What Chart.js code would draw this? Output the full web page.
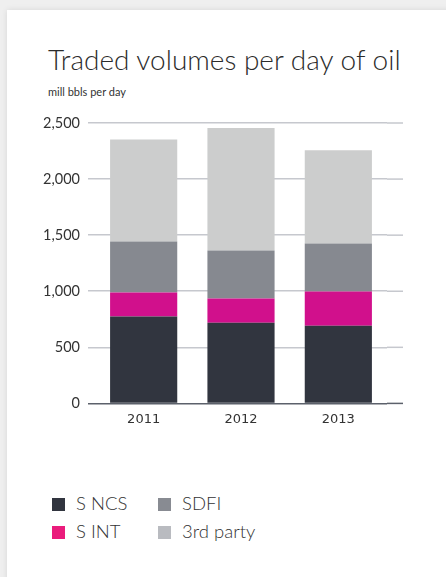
<!DOCTYPE html>
<html>
<head>
<meta charset="utf-8">
<script src="https://cdn.jsdelivr.net/npm/chart.js@4.4.1/dist/chart.umd.min.js"></script>
<style>
	html, body { margin: 0; padding: 0; }
	body { width: 446px; height: 577px; background: #efefef; overflow: hidden; position: relative; font-family: Lato, sans-serif; }
	#card { position: absolute; left: 7px; top: 10px; width: 460px; height: 580px; background: #fff; box-shadow: 0 0 6px rgba(0,0,0,0.10); }
	#wrap { position: absolute; left: 0; top: 0; width: 439px; height: 440px; }
	#title { position: absolute; left: 41px; top: 32px; font-size: 28px; font-weight: 300; line-height: 34px; color: #2b2b2b; white-space: nowrap; }
	#subtitle { position: absolute; left: 41px; top: 75px; font-size: 11px; line-height: 13.2px; color: #333; }
	#legend { position: absolute; left: 45px; top: 479px; width: 280px; }
	.item { display: inline-block; height: 28px; font-size: 18.5px; font-weight: 300; color: #333; line-height: 28px; }
	.c0 { width: 106px; }
	.box { display: inline-block; width: 13px; height: 13px; margin-right: 11px; vertical-align: -1px; }
</style>
</head>
<body>
<div id="card">
	<div id="title">Traded volumes per day of oil</div>
	<div id="subtitle">mill bbls per day</div>
	<div id="wrap"><canvas id="mycanvas"></canvas></div>
	<div id="legend"></div>
</div>
<script>
var Years = ['2011', '2012', '2013'];
var SNCS = [774, 718, 692];
var SINT = [214, 217, 305];
var SDFI = [456, 428, 428];
var ThirdParty = [910, 1092, 831];

var names = ['S NCS', 'S INT', 'SDFI', '3rd party'];
var colors = ['#31353f', '#d1108c', '#868990', '#cccdcd'];
var legendColors = ['#31353f', '#ea1c7c', '#888b92', '#b9bbc0'];

// gridlines run a bit past the plot on the right in the original
var extendGrid = {
	id: 'extendGrid',
	beforeDatasetsDraw: function(chart) {
		var y = chart.scales.y, ctx = chart.ctx, area = chart.chartArea;
		ctx.save();
		y.ticks.forEach(function(t) {
			var py = y.getPixelForValue(t.value);
			ctx.beginPath();
			ctx.lineWidth = 1.5;
			ctx.strokeStyle = t.value === 0 ? '#5c616b' : '#c6c8ce';
			ctx.moveTo(area.right, py);
			ctx.lineTo(area.right + 16, py);
			ctx.stroke();
		});
		ctx.restore();
	}
};

var chartdata = {
	labels: Years,
	datasets: [
		{ label: names[0], data: SNCS, backgroundColor: colors[0] },
		{ label: names[1], data: SINT, backgroundColor: colors[1] },
		{ label: names[2], data: SDFI, backgroundColor: colors[2] },
		{ label: names[3], data: ThirdParty, backgroundColor: colors[3] }
	]
};

var ctx = document.getElementById('mycanvas');

var barGraph = new Chart(ctx, {
	type: 'bar',
	data: chartdata,
	plugins: [extendGrid],
	options: {
		responsive: true,
		maintainAspectRatio: false,
		animation: false,
		datasets: { bar: { barPercentage: 0.69, categoryPercentage: 1 } },
		layout: { padding: { left: 33, right: 59, top: 113, bottom: 23 } },
		plugins: {
			legend: { display: false },
			tooltip: { enabled: false }
		},
		scales: {
			x: {
				stacked: true,
				grid: { display: false },
				border: { display: false },
				ticks: { color: '#333', font: { family: 'DejaVu Sans', size: 13 }, padding: 0 }
			},
			y: {
				stacked: true,
				min: 0,
				max: 2500,
				border: { display: false },
				afterFit: function(scale) { scale.width = 55; },
				grid: {
					color: function(c) { return c.tick && c.tick.value === 0 ? '#5c616b' : '#c6c8ce'; },
					lineWidth: 1.5,
					tickLength: 7
				},
				ticks: {
					stepSize: 500,
					padding: 8,
					color: '#333',
					font: { family: 'Lato', size: 14.5 },
					callback: function(v) { return v.toLocaleString('en-US'); }
				}
			}
		}
	}
});

// legend in two columns: S NCS / SDFI, S INT / 3rd party
var order = [0, 2, 1, 3];
var html = '';
order.forEach(function(i, k) {
	html += '<div class="item' + (k % 2 === 0 ? ' c0' : '') + '"><span class="box" style="background:' + legendColors[i] + '"></span>' + names[i] + '</div>';
	if (k % 2 === 1) html += '<br>';
});
document.getElementById('legend').innerHTML = html;
</script>
</body>
</html>
